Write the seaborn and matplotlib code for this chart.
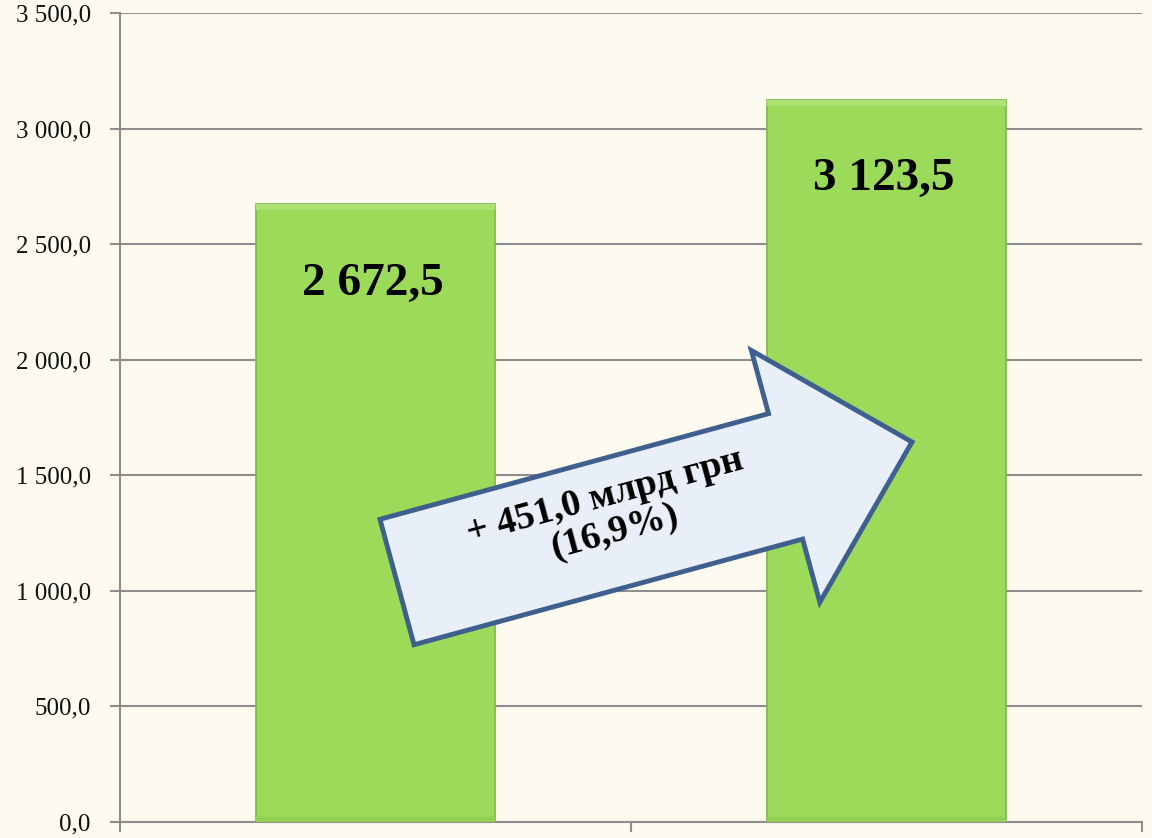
import numpy as np
import pandas as pd
import matplotlib
matplotlib.use("Agg")
import matplotlib.pyplot as plt
import matplotlib.patches as mpatches
import seaborn as sns

# ---- data ----
categories = ["Період 1", "Період 2"]
values = [2672.5, 3123.5]
value_labels = ["2 672,5", "3 123,5"]
y_ticks = [0, 500, 1000, 1500, 2000, 2500, 3000, 3500]
y_tick_labels = ["0,0", "500,0", "1 000,0", "1 500,0", "2 000,0", "2 500,0", "3 000,0", "3 500,0"]
arrow_text = "+ 451,0 млрд грн\n(16,9%)"

BG = "#FDFBEF"
GRID = "#8E8E8E"
BAR = "#9CDB5A"
BAR_EDGE = "#7FB547"
ARROW_FILL = "#E9EFF8"
ARROW_EDGE = "#3F5F8F"

sns.set_theme(style="white")
plt.rcParams["font.family"] = ["Liberation Serif", "DejaVu Serif"]

W, H = 1152, 838
fig = plt.figure(figsize=(W / 100, H / 100), dpi=100, facecolor=BG)
ax = fig.add_axes([120 / W, 1 - 822 / H, (1142 - 120) / W, (822 - 13) / H])
ax.set_facecolor(BG)

df = pd.DataFrame({"cat": categories, "val": values})
sns.barplot(data=df, x="cat", y="val", color=BAR, width=0.466, saturation=1,
            edgecolor=BAR_EDGE, linewidth=1.2, ax=ax, zorder=3)

ax.set_ylim(0, 3500)
ax.set_xlim(-0.5, 1.5)
ax.set_yticks(y_ticks)
ax.set_yticklabels(y_tick_labels, fontsize=18, color="#111111")
ax.set_xticks([-0.5, 0.5, 1.5])
ax.set_xticklabels(["", "", ""])
ax.set_xlabel("")
ax.set_ylabel("")
ax.grid(axis="y", color=GRID, linewidth=1.5, zorder=0)
ax.set_axisbelow(True)
for s in ["top", "right"]:
    ax.spines[s].set_visible(False)
for s in ["left", "bottom"]:
    ax.spines[s].set_color(GRID)
    ax.spines[s].set_linewidth(1.5)
ax.tick_params(axis="both", direction="out", length=7, width=1.5, color=GRID,
               left=True, bottom=True, pad=14)

# subtle bevel highlights on bars
for p in list(ax.patches):
    x0, w, h = p.get_x(), p.get_width(), p.get_height()
    ax.add_patch(mpatches.Rectangle((x0, h - 25), w, 25, facecolor="#AEE374",
                                    edgecolor="none", zorder=3.5))
    ax.add_patch(mpatches.Rectangle((x0, 0), w, 20, facecolor="#92CF52",
                                    edgecolor="none", zorder=3.5))

# value labels
for i, (v, lab) in enumerate(zip(values, value_labels)):
    ax.annotate(lab, (i, v), xytext=(-2, -57), textcoords="offset points",
                ha="center", va="center", fontsize=34, fontweight="bold",
                color="black", zorder=5)

# ---- arrow (pixel frame -> figure fraction) ----
tail = np.array([397.0, 582.0])
tip = np.array([912.0, 442.0])
d = tip - tail
L = np.hypot(*d)
ang = np.arctan2(d[1], d[0])
sw, hw, hl = 130.0, 261.0, 131.0
local = np.array([
    [0, -sw / 2], [L - hl, -sw / 2], [L - hl, -hw / 2], [L, 0],
    [L - hl, hw / 2], [L - hl, sw / 2], [0, sw / 2]
])
R = np.array([[np.cos(ang), -np.sin(ang)], [np.sin(ang), np.cos(ang)]])
pts = local @ R.T + tail
fig_pts = np.column_stack([pts[:, 0] / W, 1 - pts[:, 1] / H])
arrow = mpatches.Polygon(fig_pts, closed=True, transform=fig.transFigure,
                         facecolor=ARROW_FILL, edgecolor=ARROW_EDGE,
                         linewidth=3.5, joinstyle="miter", zorder=10)
fig.patches.append(arrow)
fig.text(610 / W, 1 - 514 / H, arrow_text, ha="center", va="center",
         rotation=np.degrees(-ang), rotation_mode="anchor", fontsize=27.5,
         fontweight="bold", color="black", linespacing=1.05, zorder=11,
         multialignment="center")

fig.savefig("out.png", dpi=100, facecolor=BG)
